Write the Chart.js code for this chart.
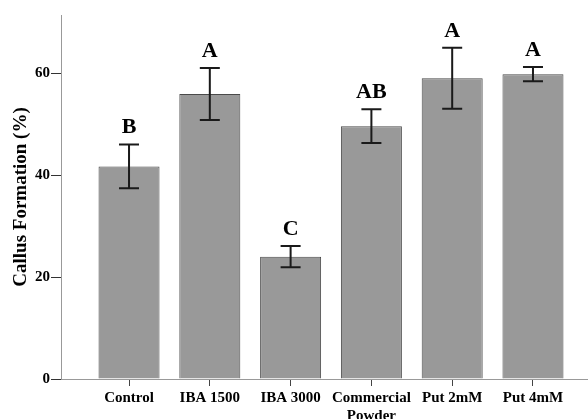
<!DOCTYPE html>
<html>
<head>
<meta charset="utf-8">
<script src="https://cdn.jsdelivr.net/npm/chart.js@4.4.1/dist/chart.umd.min.js"></script>
<style>
  html, body { margin: 0; padding: 0; background: #fff; }
  #wrap { width: 588px; height: 419px; }
</style>
</head>
<body>
<div id="wrap"><canvas id="c" width="588" height="419"></canvas></div>
<script>
const categories = ['Control', 'IBA 1500', 'IBA 3000', ['Commercial', 'Powder'], 'Put 2mM', 'Put 4mM'];
const means = [41.7, 55.9, 24.0, 49.6, 59.0, 59.8];
const errors = [4.3, 5.1, 2.1, 3.3, 6.0, 1.4];
const letters = ['B', 'A', 'C', 'AB', 'A', 'A'];
const yTicks = [0, 20, 40, 60];

const serif = '"Liberation Serif", "Times New Roman", serif';

const errorPlugin = {
  id: 'errorBars',
  afterDatasetsDraw(chart) {
    const ctx = chart.ctx;
    const xs = chart.scales.x, ys = chart.scales.y;
    ctx.save();
    ctx.strokeStyle = '#1a1a1a';
    ctx.lineWidth = 2;
    means.forEach((m, i) => {
      const x = xs.getPixelForValue(i);
      const yt = ys.getPixelForValue(m + errors[i]);
      const yb = ys.getPixelForValue(m - errors[i]);
      const cap = 10;
      ctx.beginPath();
      ctx.moveTo(x, yt); ctx.lineTo(x, yb);
      ctx.moveTo(x - cap, yt); ctx.lineTo(x + cap, yt);
      ctx.moveTo(x - cap, yb); ctx.lineTo(x + cap, yb);
      ctx.stroke();
      ctx.fillStyle = '#000';
      ctx.font = 'bold 22px ' + serif;
      ctx.textAlign = 'center';
      ctx.textBaseline = 'alphabetic';
      ctx.fillText(letters[i], x, yt - 11);
    });
    ctx.restore();
  }
};

new Chart(document.getElementById('c'), {
  type: 'bar',
  data: {
    datasets: [{
      data: means.map((v, i) => ({ x: i, y: v })),
      backgroundColor: '#999999',
      borderColor: '#4a4a4a',
      borderWidth: 1,
      categoryPercentage: 1,
      barPercentage: 0.755
    }]
  },
  options: {
    responsive: false,
    devicePixelRatio: 1,
    animation: false,
    layout: { padding: { top: 15, right: 0, left: 0, bottom: 0 } },
    plugins: { legend: { display: false }, tooltip: { enabled: false } },
    scales: {
      x: {
        type: 'linear',
        min: -0.842,
        max: 5.681,
        offset: false,
        afterBuildTicks(scale) { scale.ticks = categories.map((_, i) => ({ value: i })); },
        afterFit(scale) { scale.height = 40; },
        grid: { offset: false, drawOnChartArea: false, drawTicks: true, tickLength: 7, color: '#444' },
        border: { color: '#999', width: 1 },
        ticks: {
          color: '#000',
          font: { family: serif, size: 15, weight: 'bold' },
          padding: 3,
          maxRotation: 0,
          autoSkip: false,
          callback: (v) => categories[v]
        }
      },
      y: {
        min: 0,
        max: 71.4,
        afterBuildTicks(scale) { scale.ticks = yTicks.map(v => ({ value: v })); },
        afterFit(scale) { scale.width = 61; },
        grid: { drawOnChartArea: false, drawTicks: true, tickLength: 10, color: '#333' },
        border: { color: '#999', width: 1 },
        ticks: {
          color: '#000',
          font: { family: serif, size: 15, weight: 'bold' },
          padding: 1
        },
        title: {
          display: true,
          text: 'Callus Formation (%)',
          color: '#000',
          font: { family: serif, size: 19, weight: 'bold' },
          padding: { top: 10, bottom: 0 }
        }
      }
    }
  },
  plugins: [errorPlugin]
});
</script>
</body>
</html>
